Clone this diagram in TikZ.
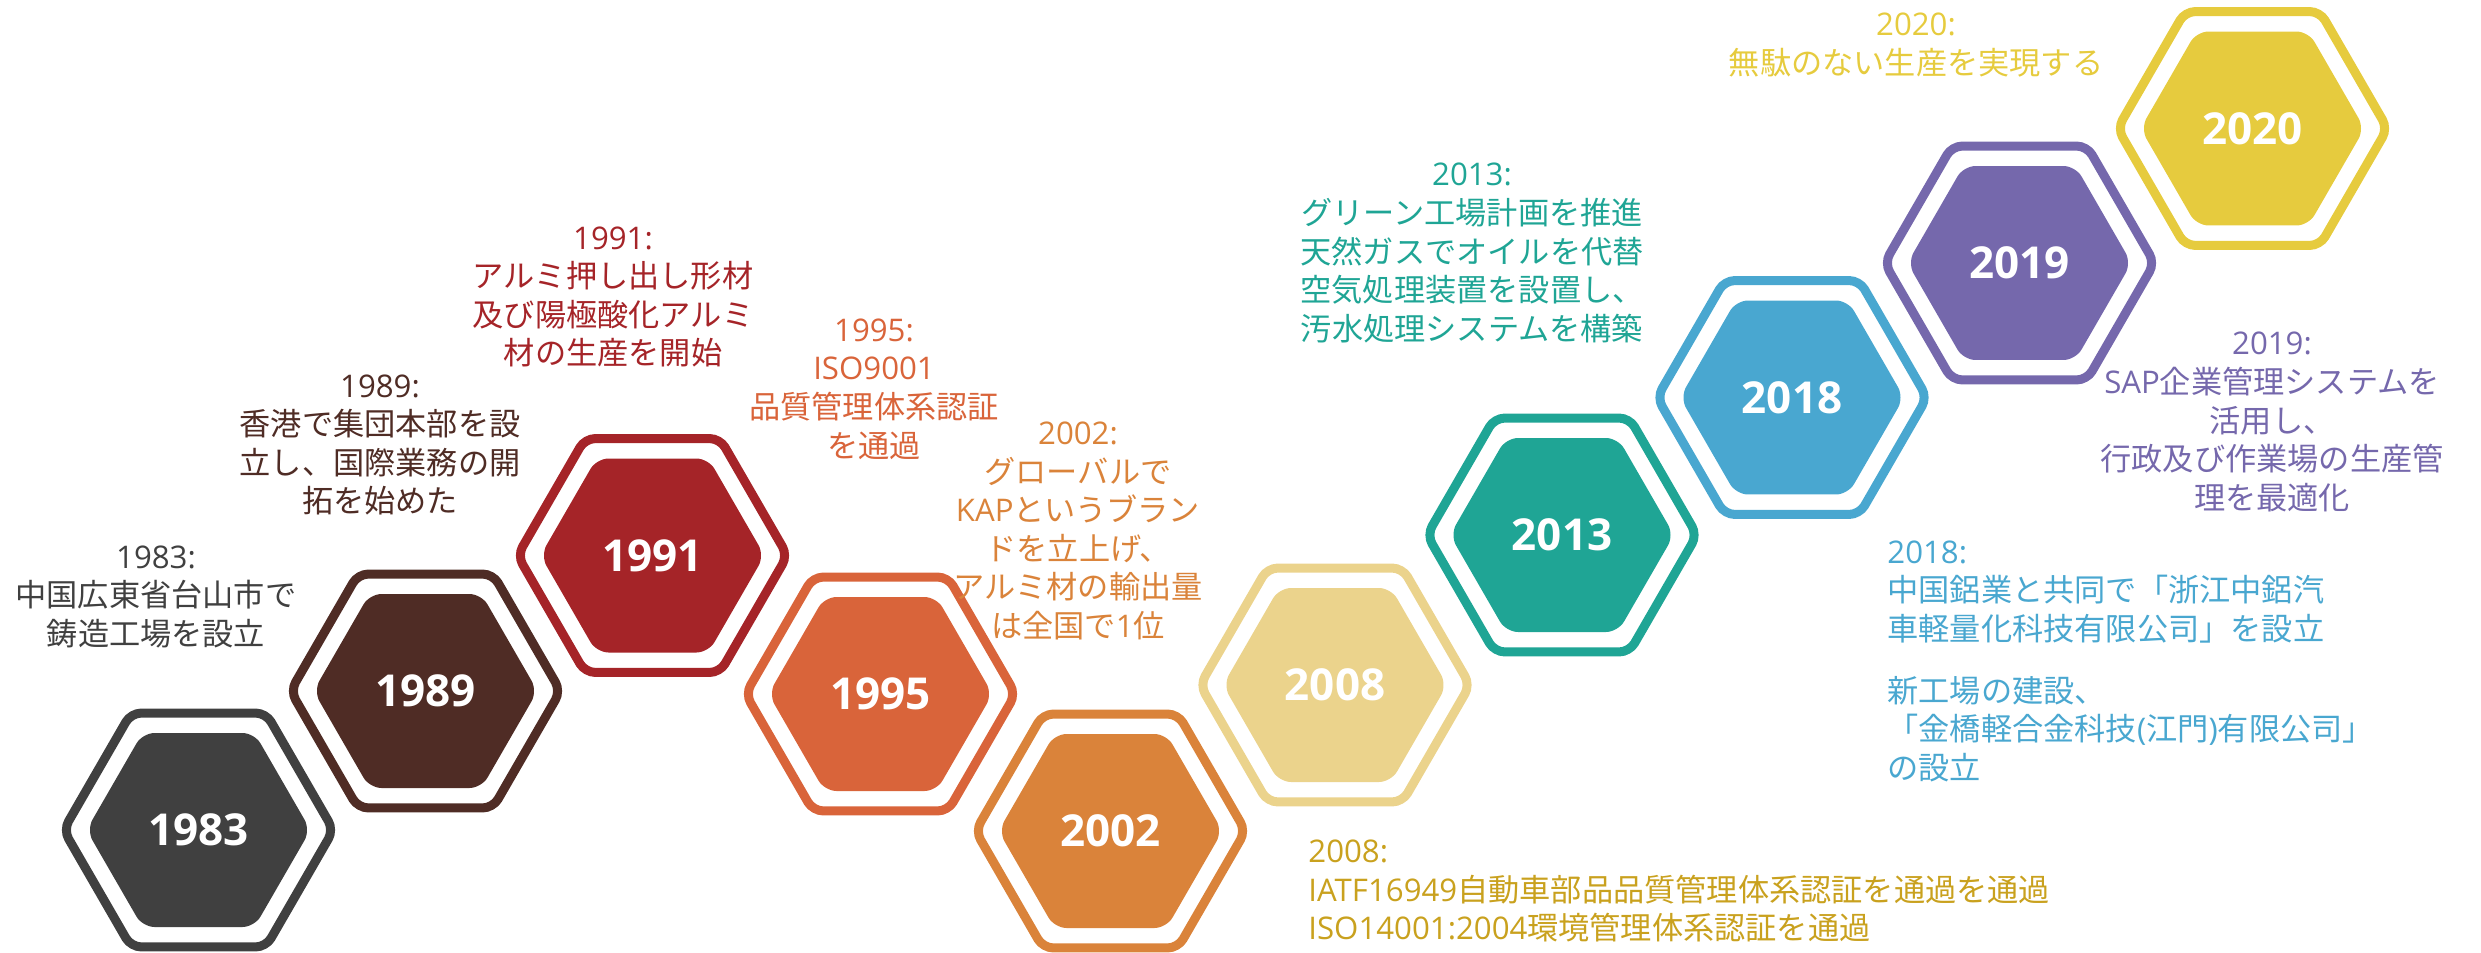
\documentclass[tikz,border=0pt]{standalone}
\usepackage{fontspec}
\setmainfont{Noto Sans CJK JP}
\newfontfamily\lat{Open Sans}
\usetikzlibrary{calc}
\definecolor{c1983}{HTML}{404040}
\definecolor{c1989}{HTML}{4F2C25}
\definecolor{c1991}{HTML}{A52428}
\definecolor{c1995}{HTML}{D9643A}
\definecolor{c2002}{HTML}{DA833A}
\definecolor{c2008}{HTML}{EBD38C}
\definecolor{c2013}{HTML}{1FA595}
\definecolor{c2018}{HTML}{49A7D0}
\definecolor{c2019}{HTML}{7568AC}
\definecolor{c2020}{HTML}{E6CB3E}
\definecolor{t2008}{HTML}{C9A11E}
\tikzset{
  hexring/.style={line width=4.5pt, rounded corners=5pt},
  hexfill/.style={rounded corners=6pt},
  yearlbl/.style={font=\lat\bfseries\fontsize{22}{26}\selectfont, text=white, inner sep=0pt},
  desc/.style={font=\fontsize{15.6}{19.3}\selectfont, align=center, inner sep=0pt},
  descl/.style={desc, align=left, anchor=west},
}
\begin{document}
\begin{tikzpicture}[x=0.5pt, y=-0.5pt]
\useasboundingbox (0,0) rectangle (2481,953);
\foreach \yr/\x/\y in {1983/198.5/830, 1989/425.5/691, 1991/652.5/555.5, 1995/880.5/694, 2002/1110.5/831, 2008/1335/685, 2013/1562/535, 2018/1792/397.5, 2019/2019.5/263, 2020/2252.5/128.5}{
  \coordinate (h\yr) at (\x,\y);
  \draw[hexring, draw=c\yr] ([shift={(0:135)}]h\yr) -- ([shift={(60:135)}]h\yr) -- ([shift={(120:135)}]h\yr) -- ([shift={(180:135)}]h\yr) -- ([shift={(240:135)}]h\yr) -- ([shift={(300:135)}]h\yr) -- cycle;
  \fill[hexfill, c\yr] ([shift={(0:112)}]h\yr) -- ([shift={(60:112)}]h\yr) -- ([shift={(120:112)}]h\yr) -- ([shift={(180:112)}]h\yr) -- ([shift={(240:112)}]h\yr) -- ([shift={(300:112)}]h\yr) -- cycle;
  \node[yearlbl] (y\yr) at (h\yr) {\yr};
}
\node[desc, text=c1983] (d1983) at (156,597) {{\lat 1983:}\\中国広東省台山市で\\鋳造工場を設立};
\node[desc, text=c1989] (d1989) at (380,445) {{\lat 1989:}\\香港で集団本部を設\\立し、国際業務の開\\拓を始めた};
\node[desc, text=c1991] (d1991) at (613,297) {{\lat 1991:}\\アルミ押し出し形材\\及び陽極酸化アルミ\\材の生産を開始};
\node[desc, text=c1995] (d1995) at (874,389) {{\lat 1995:}\\{\lat ISO9001}\\品質管理体系認証\\を通過};
\node[desc, text=c2002] (d2002) at (1078,531) {{\lat 2002:}\\グローバルで\\{\lat KAP}というブラン\\ドを立上げ、\\アルミ材の輸出量\\は全国で{\lat 1}位};
\node[descl, text=t2008] (d2008) at (1308,891) {{\lat 2008:}\\{\lat IATF16949}自動車部品品質管理体系認証を通過を通過\\{\lat ISO14001:2004}環境管理体系認証を通過};
\node[desc, text=c2013] (d2013) at (1472,253) {{\lat 2013:}\\グリーン工場計画を推進\\天然ガスでオイルを代替\\空気処理装置を設置し、\\汚水処理システムを構築};
\node[descl, text=c2018] (d2018a) at (1887,592) {{\lat 2018:}\\中国鋁業と共同で「浙江中鋁汽\\車軽量化科技有限公司」を設立};
\node[descl, text=c2018] (d2018b) at (1887,729) {新工場の建設、\\「金橋軽合金科技{\lat(}江門{\lat)}有限公司」\\の設立};
\node[desc, text=c2019] (d2019) at (2272,422) {{\lat 2019:}\\{\lat SAP}企業管理システムを\\活用し、\\行政及び作業場の生産管\\理を最適化};
\node[desc, text=c2020] (d2020) at (1916,45) {{\lat 2020:}\\無駄のない生産を実現する};
\end{tikzpicture}
\end{document}
